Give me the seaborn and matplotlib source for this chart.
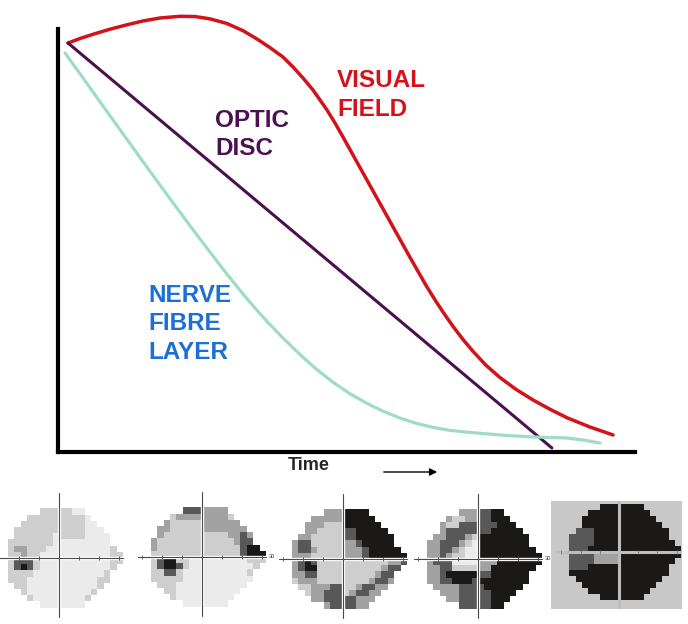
import numpy as np
import pandas as pd
import matplotlib
matplotlib.use("Agg")
import matplotlib.pyplot as plt
from matplotlib.colors import ListedColormap
import seaborn as sns

# --- curves (time 0-100, level 0-100) ---
vf_time = [1.73, 3.81, 6.07, 9.01, 11.96, 14.73, 17.68, 21.14, 23.74, 26.34, 29.29,
           32.06, 34.49, 36.74, 38.99, 40.73, 42.46, 44.19, 45.41, 46.62, 48.01, 49.39,
           50.78, 52.34, 53.73, 55.29, 56.67, 58.06, 59.62, 61.01, 62.56, 63.95, 65.51,
           67.07, 68.46, 70.19, 71.92, 74.18, 76.60, 79.38, 82.32, 85.27, 88.21, 92.20,
           96.19]
vf_level = [96.69, 97.75, 98.75, 99.95, 101.0, 101.9, 102.6, 103.0, 102.95, 102.4,
            101.3, 99.6, 97.64, 95.6, 93.38, 91.02, 88.42, 85.58, 83.22, 80.85, 77.78,
            74.47, 71.06, 67.24, 63.83, 60.01, 56.63, 53.22, 49.4, 46.0, 42.3, 39.0,
            35.6, 32.4, 29.7, 26.6, 23.8, 20.5, 17.6, 14.8, 12.3, 10.1, 8.1, 5.9, 4.03]

disc_time = [1.73, 85.6]
disc_level = [96.69, 0.95]

nfl_time = [1.21, 3.64, 6.07, 9.01, 11.96, 14.73, 17.68, 20.45, 23.40, 26.34, 29.29,
            31.89, 34.49, 36.22, 38.99, 41.94, 44.71, 47.66, 50.61, 53.55, 56.33, 59.27,
            62.22, 64.99, 67.94, 70.88, 76.60, 82.32, 88.21, 90.99, 93.93]
nfl_level = [94.33, 89.75, 85.1, 79.5, 73.9, 68.65, 63.1, 57.95, 52.55, 47.25, 42.05,
             37.63, 33.47, 30.87, 26.94, 23.05, 19.67, 16.48, 13.77, 11.48, 9.65, 8.03,
             6.73, 5.82, 5.11, 4.70, 4.02, 3.55, 3.31, 2.84, 2.13]

# --- grey-scale visual field printouts, 0 = normal ... 4 = lost, '.' = not tested ---
field_1 = [".....111" "1100......",
           "...11111" "11110.....",
           "..111111" "111100....",
           ".1111111" "1111000...",
           ".1111110" "11110000..",
           "11111110" "00000000..",
           "12211100" "000000001.",
           "11211000" "0000000011",
           "13331000" "0000000011",
           "13431000" "000000001.",
           "11110000" "00000001..",
           "11100000" "00000011..",
           ".1100000" "0000001...",
           "..100000" "000001....",
           "...10000" "00001.....",
           ".....000" "0000......"]

field_2 = [".....333" "2222......",
           "...12222" "22221.....",
           "..211111" "222222....",
           ".2211111" "2222222...",
           ".2111111" "11112232..",
           "21111111" "11111233..",
           "21111111" "111111344.",
           "11111111" "1111113444",
           "13441100" "0000000111",
           "13443100" "000000001.",
           "11331000" "00000001..",
           "11111000" "00000000..",
           ".1110000" "0000000...",
           "..110000" "000000....",
           "...10000" "00000.....",
           ".....000" "0000......"]

field_3 = [".....222" "4444......",
           "...22222" "44444.....",
           "..222111" "444444....",
           "..221111" "3344444...",
           ".2211111" "33444444..",
           "23311111" "22344444..",
           "23321111" "222344444.",
           "22211111" "2223444444",
           "23431111" "1111111223",
           "23441111" "111111233.",
           "22331111" "11111233..",
           "12221111" "11112332..",
           ".1122233" "1123322...",
           "..122333" "123322....",
           "...22333" "33222.....",
           ".....233" "3322......"]

field_4 = [".....222" "3344......",
           "...21122" "33444.....",
           "..211333" "333444....",
           "..233333" "3344444...",
           ".2233321" "44444444..",
           "22333210" "44444444..",
           "22332100" "444444444.",
           "22321100" "4444444444",
           "23330000" "2224444444",
           "22331111" "224444444.",
           "22344444" "33444444..",
           "22334443" "44444444..",
           ".2222333" "3444444...",
           "..222333" "334444....",
           "...22333" "33444.....",
           ".....333" "3344......"]

field_5 = [".....444" "4444......",
           "...44444" "44444.....",
           "..444444" "444444....",
           "..444444" "4444444...",
           ".3334444" "44444444..",
           "33334444" "44444444..",
           "33334444" "444444444.",
           "33344444" "4444444444",
           "33332222" "4444444444",
           "33332222" "444444444.",
           "33344444" "44444444..",
           "44444444" "44444444..",
           ".4444444" "4444444...",
           "..444444" "444444....",
           "...44444" "44444.....",
           ".....444" "4444......"]

W, H = 688, 624
RED, PURPLE, TEAL, BLUE = "#d3121a", "#4a1150", "#9edcc6", "#1c6fd6"

sns.set_style("white")
plt.rcParams["font.family"] = ["Liberation Sans", "DejaVu Sans"]

fig = plt.figure(figsize=(W / 100, H / 100), dpi=100)

# main chart: spine corner at px (58, 452), right end px 635, 4.23 px per level unit
ax = fig.add_axes([58 / W, 1 - 452 / H, (635 - 58) / W, (452 - 10) / H])
ax.set_xlim(0, 100)
ax.set_ylim(0, (452 - 10) / 4.23)

sns.lineplot(x=vf_time, y=vf_level, sort=False, color=RED, lw=2.5, ax=ax)
sns.lineplot(x=disc_time, y=disc_level, sort=False, color=PURPLE, lw=2.2, ax=ax)
sns.lineplot(x=nfl_time, y=nfl_level, sort=False, color=TEAL, lw=2.3, ax=ax)

for side in ["top", "right"]:
    ax.spines[side].set_visible(False)
for side in ["left", "bottom"]:
    ax.spines[side].set_linewidth(3)
    ax.spines[side].set_color("black")
ax.spines["left"].set_bounds(0, 100)
ax.set_xticks([])
ax.set_yticks([])

lbl = dict(fontsize=17.5, fontweight="bold", va="top", ha="left", linespacing=1.3)
ax.text(48.4, 90.5, "VISUAL\nFIELD", color=RED, **lbl)
ax.text(27.2, 81.1, "OPTIC\nDISC", color=PURPLE, **lbl)
ax.text(15.6, 39.7, "NERVE\nFIBRE\nLAYER", color=BLUE, **lbl)

fig.text(309 / W, 1 - 465 / H, "Time", ha="center", va="center",
         fontsize=13, fontweight="bold")
ax.annotate("", xy=(440 / W, 1 - 472 / H), xytext=(381 / W, 1 - 472 / H),
            xycoords="figure fraction",
            arrowprops=dict(arrowstyle="-|>", color="black", lw=1, mutation_scale=11))

# --- the five field printouts under the time axis ---
greys = ListedColormap(["#ebebeb", "#cecece", "#a2a2a2", "#585858", "#1b1818"])


def field_axes(cx, cy, cw, ch, xlim, ylim):
    # cx, cy = pixel position of the cross (grid col 8 / row 8 edge)
    x0 = cx + (xlim[0] - 8) * cw
    x1 = cx + (xlim[1] - 8) * cw
    y0 = cy + (ylim[0] - 8) * ch
    y1 = cy + (ylim[1] - 8) * ch
    return fig.add_axes([x0 / W, 1 - y1 / H, (x1 - x0) / W, (y1 - y0) / H])


fields = [field_1, field_2, field_3, field_4, field_5]
cross_px = [(59, 558), (202, 557), (343, 559), (478, 559), (619, 552)]
ticks = [8 - 9.4, 8 - 6.2, 8 - 3.1, 8 + 3.1, 8 + 6.2, 8 + 9.4]

for k, (rows, (cx, cy)) in enumerate(zip(fields, cross_px)):
    grid = pd.DataFrame([[np.nan if c == "." else int(c) for c in r] for r in rows])
    last = k == 4
    if last:
        xl, yl, cw, ch = (-3.0, 18.2), (-0.5, 17.5), 6.2, 6.0
    else:
        xl, yl, cw, ch = (-2.5, 19.5), (-3.0, 18.0), 6.4, 6.2
    fa = field_axes(cx, cy, cw, ch, xl, yl)
    sns.heatmap(grid, ax=fa, cmap=greys, vmin=-0.5, vmax=4.5, cbar=False,
                xticklabels=False, yticklabels=False)
    fa.set_xlim(*xl)
    fa.set_ylim(yl[1], yl[0])
    if last:
        fa.set_facecolor("#c8c8c8")
        for s in fa.spines.values():
            s.set_visible(False)
        fa.plot([8, 8], [yl[0], yl[1]], color="#bdbdbd", lw=2.2)
        fa.plot([-2, 18.2], [8, 8], color="#bdbdbd", lw=2.2)
        fa.plot(ticks, [8] * len(ticks), "|", color="#777777", ms=3, mew=0.6)
    else:
        fa.axis("off")
        fa.plot([8, 8], [-2.5, 17.5], color="white", lw=2.4)
        fa.plot([-2, 18], [8, 8], color="white", lw=2.4)
        fa.plot([8, 8], [-2.5, 17.5], color="#4a4a4a", lw=0.8)
        fa.plot([-2, 18], [8, 8], color="#4a4a4a", lw=0.8)
        fa.plot(ticks, [8] * len(ticks), "|", color="#4a4a4a", ms=3, mew=0.6)
        if k in (1, 3):
            fa.text(18.4, 8, "30", fontsize=4, va="center", ha="left", color="#333333")

fig.savefig("out.png", dpi=100)
